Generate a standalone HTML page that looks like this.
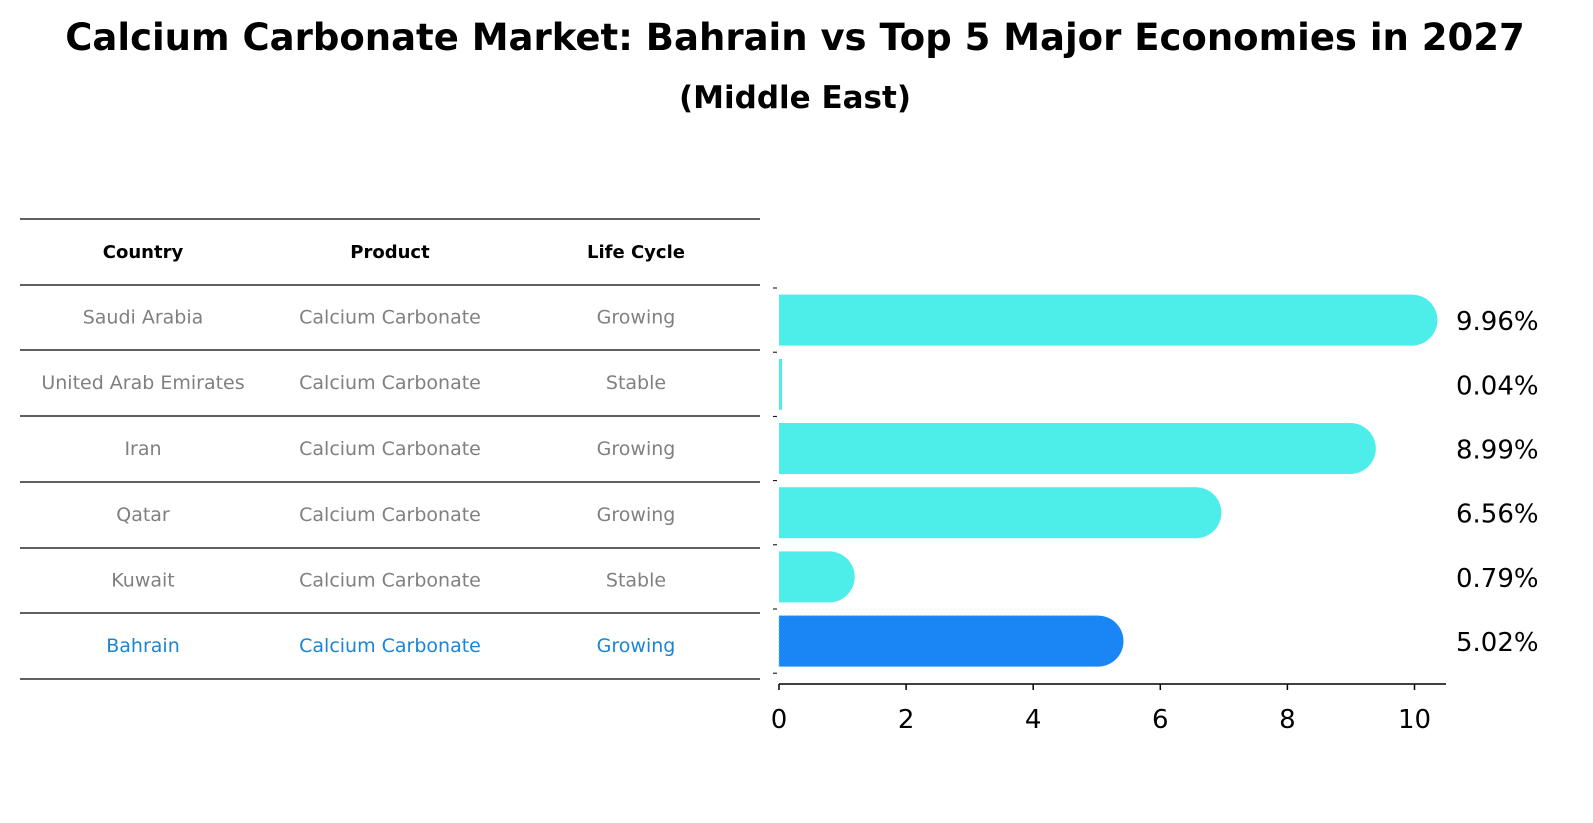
<!DOCTYPE html>
<html><head><meta charset="utf-8"><style>
body{margin:0;background:#fff;}
svg{display:block;font-family:"DejaVu Sans","Liberation Sans",sans-serif;}
</style></head><body>
<svg id="root" width="1593" height="823" viewBox="0 0 1593 823">
<text x="795" y="50" text-anchor="middle" font-size="37" font-weight="bold">Calcium Carbonate Market: Bahrain vs Top 5 Major Economies in 2027</text>
<text x="795" y="108" text-anchor="middle" font-size="31" font-weight="bold">(Middle East)</text>
<g id="table"></g>
<g id="bars"></g>
</svg>
<script>
const countries=["Saudi Arabia","United Arab Emirates","Iran","Qatar","Kuwait","Bahrain"];
const products=["Calcium Carbonate","Calcium Carbonate","Calcium Carbonate","Calcium Carbonate","Calcium Carbonate","Calcium Carbonate"];
const lifecycles=["Growing","Stable","Growing","Growing","Stable","Growing"];
const values=[9.96,0.04,8.99,6.56,0.79,5.02];
const valueLabels=["9.96%","0.04%","8.99%","6.56%","0.79%","5.02%"];
const xTicks=[0,2,4,6,8,10];
const NS="http://www.w3.org/2000/svg";
function mk(tag,attrs,parent,txt){const e=document.createElementNS(NS,tag);for(const k in attrs)e.setAttribute(k,attrs[k]);if(txt!==undefined)e.textContent=txt;parent.appendChild(e);return e;}
const tbl=document.getElementById('table');
const lineYs=[219,285,350,416,482,548,613,679];
lineYs.forEach(y=>{const l=mk('line',{x1:20,x2:760,y1:y,y2:y,stroke:'#000','stroke-width':1.2},tbl);

});
const colX=[143,390,636];
["Country","Product","Life Cycle"].forEach((h,i)=>{const t=mk('text',{x:colX[i],y:258,'text-anchor':'middle','font-size':18,'font-weight':'bold'},tbl,h);

});
countries.forEach((c,r)=>{const y=(lineYs[r+1]+lineYs[r+2])/2+6;const col=c==="Bahrain"?'#1a85d8':'#808080';
[c,products[r],lifecycles[r]].forEach((v,i)=>{const t=mk('text',{x:colX[i],y:y,'text-anchor':'middle','font-size':19,fill:col},tbl,v);

});});
const g=document.getElementById('bars');
const x0=779,xScale=63.55;
const xp=v=>x0+v*xScale;
const rowTop=288,rowStep=64.2,barH=51;
const yc=i=>rowTop+rowStep*i+rowStep/2;
values.forEach((v,i)=>{const isB=countries[i]==="Bahrain";const col=isB?'#1a85f5':'#4deeea';
const cy=yc(i),w=xp(v)-x0;
const bg=mk('g',{},g);


if(v>=0.3){
mk('rect',{x:x0,y:cy-barH/2,width:w,height:barH,fill:col},bg);
mk('circle',{cx:xp(v),cy:cy,r:barH/2,fill:col},bg);
if(isB)mk('path',{d:`M${xp(v)} ${cy-barH/2}H${x0}V${cy+barH/2}H${xp(v)}`,fill:'none',stroke:'#7fbfff','stroke-width':1,'stroke-dasharray':'2,2'},bg);
}else{mk('rect',{x:x0,y:cy-barH/2,width:Math.max(w,3),height:barH,fill:col},bg);}
const t=mk('text',{x:1456,y:cy+10,'font-size':26},g,valueLabels[i]);


});
for(let i=0;i<=6;i++){const tk=mk('line',{x1:773,x2:777,y1:rowTop+rowStep*i,y2:rowTop+rowStep*i,stroke:'#000','stroke-width':1},g);

}
const ax=mk('line',{x1:779,x2:1446,y1:684,y2:684,stroke:'#000','stroke-width':1.5},g);


xTicks.forEach(v=>{const l=mk('line',{x1:xp(v),x2:xp(v),y1:684,y2:690,stroke:'#000','stroke-width':1.5},g);


const t=mk('text',{x:xp(v),y:728,'text-anchor':'middle','font-size':26},g,String(v));

});
</script>
</body></html>
